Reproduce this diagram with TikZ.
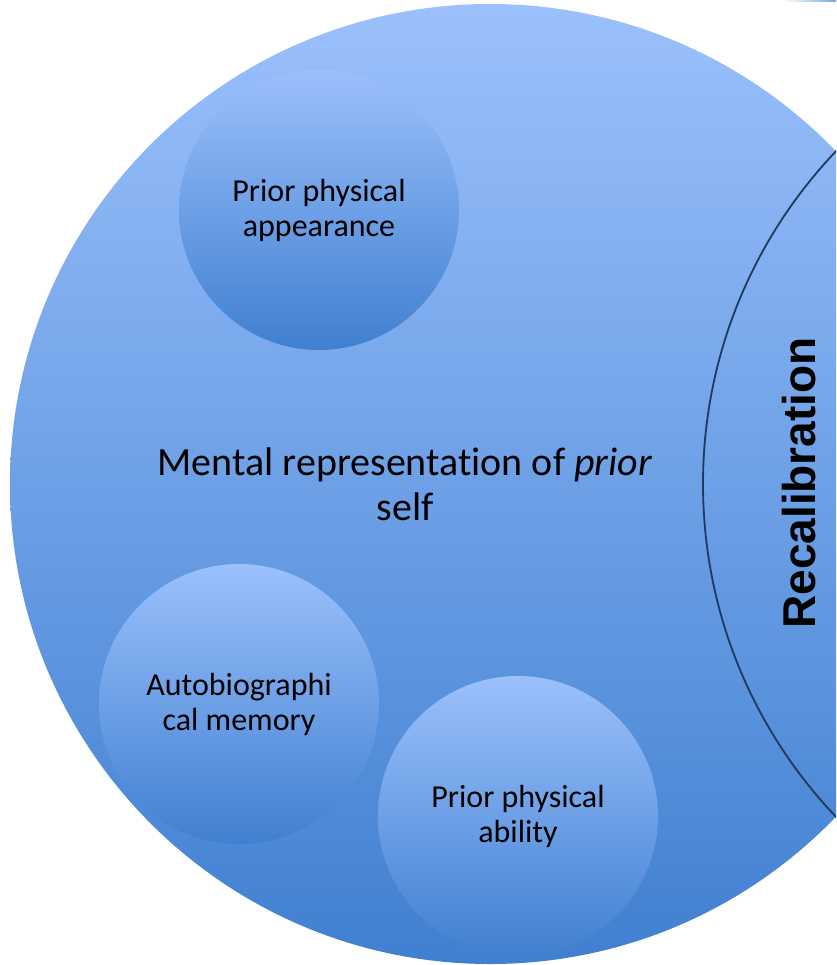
\documentclass[tikz,border=0pt]{standalone}
\usepackage{fontspec}
\setmainfont{Carlito}[Ligatures=NoCommon]
\newfontfamily\arialfont{Liberation Sans}
\definecolor{blueTop}{HTML}{9BC0FC}
\definecolor{blueBot}{HTML}{4080D0}
\definecolor{edgeNavy}{HTML}{1F3A5F}
\tikzset{
  bigcirc/.style={circle, inner sep=0pt, minimum size=960pt, top color=blueTop, bottom color=blueBot, draw=none},
  smallcirc/.style={circle, inner sep=0pt, minimum size=280pt, top color=blueTop, bottom color=blueBot, draw=none,
    align=center, font=\fontsize{32}{35}\selectfont, text=black},
  maintext/.style={align=center, font=\fontsize{40}{45}\selectfont, text=black},
  recal/.style={rotate=90, font=\arialfont\bfseries\fontsize{46}{50}\selectfont, text=black},
  recalarc/.style={draw=edgeNavy, line width=1.8pt},
}
\begin{document}
\begin{tikzpicture}[x=1pt, y=-1pt]
\useasboundingbox (0,0) rectangle (836,965);
\clip (0,0) rectangle (836,965);
\node[bigcirc] (big) at (490,484) {};
\node[circle, recalarc, inner sep=0pt, minimum size=966pt] (recalc) at (1186,484) {};
\shade[left color=white, right color=blueBot!70] (783,0) rectangle (836,2);
\node[smallcirc] (appear) at (319,210) {Prior physical\\appearance};
\node[smallcirc] (memory) at (239,704) {Autobiographi\\cal memory};
\node[smallcirc] (ability) at (518,816) {Prior physical\\ability};
\node[maintext] (mental) at (405,484) {Mental representation of \emph{prior}\\self};
\node[recal] (recaltxt) at (799,483) {Recalibration};
\end{tikzpicture}
\end{document}
